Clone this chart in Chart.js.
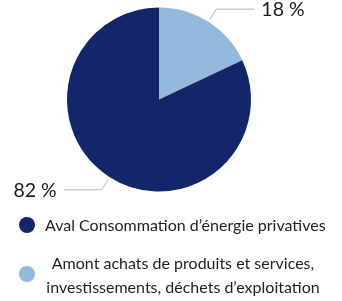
<!DOCTYPE html>
<html>
<head>
<meta charset="utf-8">
<script src="https://cdn.jsdelivr.net/npm/chart.js@4/dist/chart.umd.min.js"></script>
<style>
  html, body { margin: 0; padding: 0; background: #fff; }
  #wrap { position: relative; width: 342px; height: 301px; overflow: hidden; }
  #pie { position: absolute; left: 0; top: 0; }
  .item { position: absolute; left: 0; font-family: Lato, "Noto Sans", sans-serif; font-size: 16px; color: #1e1e1e; }
  .dot { position: absolute; left: 19px; width: 16px; height: 16px; border-radius: 50%; }
  .txt { position: absolute; left: 45px; width: 276px; line-height: 24px; white-space: nowrap; }
</style>
</head>
<body>
<div id="wrap">
  <canvas id="pie" width="342" height="301"></canvas>
  <div id="legend"></div>
</div>
<script>
// données du graphique (ordre horaire depuis midi)
const categories = [
    ['Amont achats de produits et services,', 'investissements, déchets d’exploitation'],
    ['Aval Consommation d’énergie privatives']
];
const values = [18, 82];
const valueLabels = ['18 %', '82 %'];
const colors = ['#93b9dc', '#13266a'];

// légende HTML (Aval en premier, comme dans l'original)
const legendEl = document.getElementById('legend');
const legendPos = [
    { i: 1, top: 213, dotTop: 217, align: 'left' },
    { i: 0, top: 251, dotTop: 266, align: 'center' }
];
legendPos.forEach(p => {
    const item = document.createElement('div');
    item.className = 'item';
    const dot = document.createElement('div');
    dot.className = 'dot';
    dot.style.top = p.dotTop + 'px';
    dot.style.background = colors[p.i];
    const txt = document.createElement('div');
    txt.className = 'txt';
    txt.style.top = p.top + 'px';
    txt.style.textAlign = p.align;
    txt.innerHTML = categories[p.i].join('<br>');
    item.appendChild(dot);
    item.appendChild(txt);
    legendEl.appendChild(item);
});

// étiquettes avec traits de rappel
const leaderLines = {
    id: 'leaderLines',
    afterDatasetsDraw(chart) {
        const ctx = chart.ctx;
        const meta = chart.getDatasetMeta(0);
        meta.data.forEach((arc, i) => {
            const p = arc.getProps(['x', 'y', 'startAngle', 'endAngle', 'outerRadius'], true);
            const mid = (p.startAngle + p.endAngle) / 2;
            const cos = Math.cos(mid), sin = Math.sin(mid);
            const x1 = p.x + cos * (p.outerRadius + 3);
            const y1 = p.y + sin * (p.outerRadius + 3);
            const x2 = p.x + cos * (p.outerRadius + 15);
            const y2 = p.y + sin * (p.outerRadius + 15);
            const right = cos >= 0;
            const x3 = x2 + (right ? 38 : -38);
            ctx.save();
            ctx.strokeStyle = '#b4b4b4';
            ctx.lineWidth = 1;
            ctx.beginPath();
            ctx.moveTo(x1, y1);
            ctx.lineTo(x2, y2);
            ctx.lineTo(x3, y2);
            ctx.stroke();
            ctx.fillStyle = '#1a1a1a';
            ctx.font = '19.5px Lato, "Noto Sans", sans-serif';
            ctx.textBaseline = 'middle';
            ctx.textAlign = right ? 'left' : 'right';
            ctx.fillText(valueLabels[i], x3 + (right ? 7 : -7), y2 + 1);
            ctx.restore();
        });
    }
};

new Chart(document.getElementById('pie').getContext('2d'), {
    type: 'pie',
    data: {
        labels: categories,
        datasets: [{
            data: values,
            backgroundColor: colors,
            borderWidth: 0
        }]
    },
    options: {
        responsive: false,
        animation: false,
        layout: { padding: { left: 67, right: 91, top: 7.5, bottom: 109.5 } },
        plugins: {
            legend: { display: false },
            tooltip: { enabled: false }
        }
    },
    plugins: [leaderLines]
});
</script>
</body>
</html>
